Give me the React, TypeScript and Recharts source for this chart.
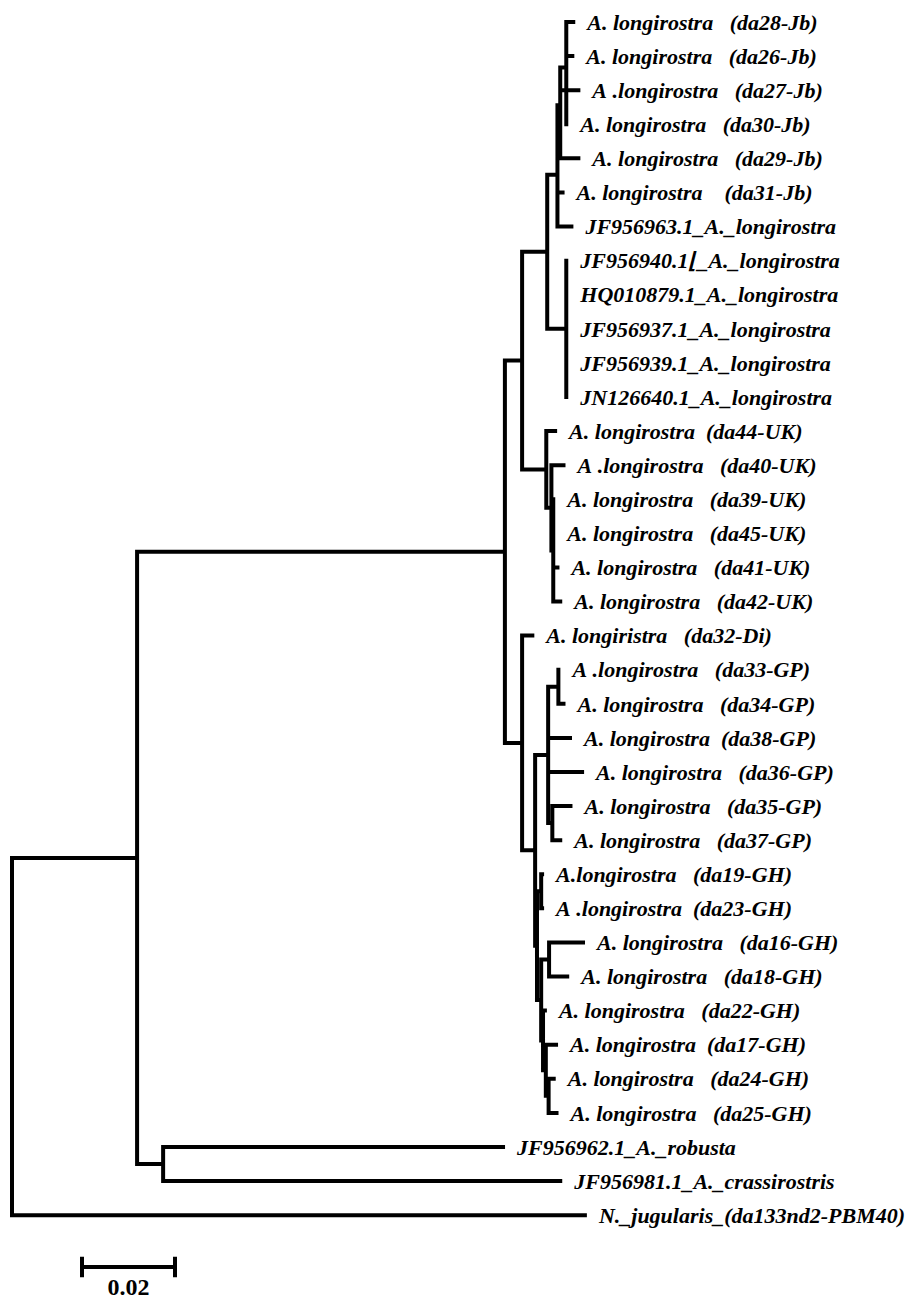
import React from 'react';
import { ComposedChart, Line, Scatter, XAxis, YAxis } from 'recharts';

// leaf order, top to bottom
const LEAF_IDS = [
  'da28', 'da26', 'da27', 'da30', 'da29', 'da31',
  'JF956963', 'JF956940', 'HQ010879', 'JF956937', 'JF956939', 'JN126640',
  'da44', 'da40', 'da39', 'da45', 'da41', 'da42',
  'da32', 'da33', 'da34', 'da38', 'da36', 'da35', 'da37',
  'da19', 'da23', 'da16', 'da18', 'da22', 'da17', 'da24', 'da25',
  'JF956962', 'JF956981', 'da133',
];

const LEAF_LABELS = [
  'A. longirostra   (da28-Jb)',
  'A. longirostra   (da26-Jb)',
  'A .longirostra   (da27-Jb)',
  'A. longirostra   (da30-Jb)',
  'A. longirostra   (da29-Jb)',
  'A. longirostra    (da31-Jb)',
  'JF956963.1_A._longirostra',
  'JF956940.1\u230A_A._longirostra',
  'HQ010879.1_A._longirostra',
  'JF956937.1_A._longirostra',
  'JF956939.1_A._longirostra',
  'JN126640.1_A._longirostra',
  'A. longirostra  (da44-UK)',
  'A .longirostra   (da40-UK)',
  'A. longirostra   (da39-UK)',
  'A. longirostra   (da45-UK)',
  'A. longirostra   (da41-UK)',
  'A. longirostra   (da42-UK)',
  'A. longiristra   (da32-Di)',
  'A .longirostra   (da33-GP)',
  'A. longirostra   (da34-GP)',
  'A. longirostra  (da38-GP)',
  'A. longirostra   (da36-GP)',
  'A. longirostra   (da35-GP)',
  'A. longirostra   (da37-GP)',
  'A.longirostra   (da19-GH)',
  'A .longirostra  (da23-GH)',
  'A. longirostra   (da16-GH)',
  'A. longirostra   (da18-GH)',
  'A. longirostra   (da22-GH)',
  'A. longirostra  (da17-GH)',
  'A. longirostra   (da24-GH)',
  'A. longirostra   (da25-GH)',
  'JF956962.1_A._robusta',
  'JF956981.1_A._crassirostris',
  'N._jugularis_(da133nd2-PBM40)',
];

// [parent, child, branch length (substitutions/site)]
const EDGES: [string, string, number][] = [
  ['root', 'A', 0.0269], ['root', 'da133', 0.1232],
  ['A', 'B', 0.0791], ['A', 'C', 0.0056],
  ['C', 'JF956962', 0.0731], ['C', 'JF956981', 0.0854],
  ['B', 'D', 0.0037], ['B', 'E', 0.0037],
  ['D', 'R', 0.0054], ['D', 'U1', 0.0052],
  ['R', 'J', 0.0022], ['R', 'JFP', 0.0041],
  ['J', 'Q', 0.0006], ['J', 'da31', 0.0011], ['J', 'JF956963', 0.003],
  ['Q', 'S', 0.0013], ['Q', 'da27', 0.0039], ['Q', 'da29', 0.0039],
  ['S', 'da28', 0.0015], ['S', 'da26', 0.0013], ['S', 'da30', 0],
  ['JFP', 'JF956940', 0], ['JFP', 'HQ010879', 0], ['JFP', 'JF956937', 0],
  ['JFP', 'JF956939', 0], ['JFP', 'JN126640', 0],
  ['U1', 'da44', 0.0019], ['U1', 'U2', 0.0011],
  ['U2', 'da40', 0.0026], ['U2', 'U3', 0.0004],
  ['U3', 'da39', 0], ['U3', 'da45', 0], ['U3', 'da41', 0.0009], ['U3', 'da42', 0.0015],
  ['E', 'da32', 0.0022], ['E', 'F', 0.0028],
  ['F', 'G', 0.0028], ['F', 'H', 0.0004],
  ['G', 'G2', 0.0022], ['G', 'da38', 0.0047], ['G', 'da36', 0.0073], ['G', 'G3', 0.0009],
  ['G2', 'da33', 0], ['G2', 'da34', 0.0011],
  ['G3', 'da35', 0.0039], ['G3', 'da37', 0.0017],
  ['H', 'H1', 0.0009], ['H', 'Hp', 0.0009],
  ['H1', 'da19', 0.0002], ['H1', 'da23', 0.0002],
  ['Hp', 'H2', 0.0017], ['Hp', 'Hpp', 0.0004],
  ['H2', 'da16', 0.0073], ['H2', 'da18', 0.0039],
  ['Hpp', 'da22', 0.0004], ['Hpp', 'H3', 0.0006],
  ['H3', 'da17', 0.0022], ['H3', 'H4', 0.0006],
  ['H4', 'da24', 0.0011], ['H4', 'da25', 0.0017],
];

const SCALE_LENGTH = 0.02;
const SCALE_LABEL = '0.02';

const W = 915;
const H = 1302;
const PX_PER_UNIT = 4650;
const ROW_PX = 34.09;
const X_DOMAIN: [number, number] = [-12 / PX_PER_UNIT, (W - 12) / PX_PER_UNIT];
const Y_DOMAIN: [number, number] = [-22 / ROW_PX, (H - 22) / ROW_PX];
const SCALE_START = 70 / PX_PER_UNIT;
const SCALE_ROW = 1245 / ROW_PX;
const TICK_HALF = 0.24;

const FONT = '"Liberation Serif", "Times New Roman", serif';

type Pt = { x: number; y: number | null };

function layoutTree() {
  const children: Record<string, string[]> = {};
  const len: Record<string, number> = {};
  EDGES.forEach(([p, c, l]) => {
    (children[p] ||= []).push(c);
    len[c] = l;
  });
  const root = EDGES[0][0];
  const xs: Record<string, number> = { [root]: 0 };
  const ys: Record<string, number> = {};
  const visit = (id: string) => {
    const kids = children[id];
    if (!kids) {
      ys[id] = LEAF_IDS.indexOf(id);
      return;
    }
    kids.forEach((k) => {
      xs[k] = xs[id] + len[k];
      visit(k);
    });
    ys[id] = kids.reduce((s, k) => s + ys[k], 0) / kids.length;
  };
  visit(root);

  // one path, broken with null points between segments
  const line: Pt[] = [];
  const seg = (a: Pt, b: Pt) => line.push(a, b, { x: b.x, y: null });
  Object.keys(children).forEach((id) => {
    const kidYs = children[id].map((k) => ys[k]);
    seg({ x: xs[id], y: Math.min(...kidYs) }, { x: xs[id], y: Math.max(...kidYs) });
    children[id].forEach((k) => {
      if (len[k] > 0) seg({ x: xs[id], y: ys[k] }, { x: xs[k], y: ys[k] });
    });
  });

  const leaves = LEAF_IDS.map((id, i) => ({ x: xs[id], y: i, label: LEAF_LABELS[i] }));
  return { line, leaves };
}

const LeafLabel = (props: any) => {
  const { cx, cy, payload } = props;
  return (
    <text
      x={cx + 14}
      y={cy}
      dy="0.35em"
      fontFamily={FONT}
      fontSize={22}
      fontWeight="bold"
      fontStyle="italic"
      fill="#000"
    >
      {payload.label.replace(/ /g, '\u00A0')}
    </text>
  );
};

const ScaleLabel = (props: any) => {
  const { cx, cy, payload } = props;
  return (
    <text x={cx} y={cy + 28} textAnchor="middle" fontFamily={FONT} fontSize={24} fontWeight="bold" fill="#000">
      {payload.label}
    </text>
  );
};

export default function App() {
  const { line, leaves } = layoutTree();
  const s0 = SCALE_START;
  const s1 = SCALE_START + SCALE_LENGTH;
  const scaleLine: Pt[] = [
    { x: s0, y: SCALE_ROW - TICK_HALF }, { x: s0, y: SCALE_ROW + TICK_HALF }, { x: s0, y: null },
    { x: s0, y: SCALE_ROW }, { x: s1, y: SCALE_ROW }, { x: s1, y: null },
    { x: s1, y: SCALE_ROW - TICK_HALF }, { x: s1, y: SCALE_ROW + TICK_HALF },
  ];
  const scaleText = [{ x: (s0 + s1) / 2, y: SCALE_ROW, label: SCALE_LABEL }];

  return (
    <div style={{ position: 'absolute', left: 0, top: 0, background: '#fff' }}>
      <ComposedChart width={W} height={H} margin={{ top: 0, right: 0, bottom: 0, left: 0 }}>
        <XAxis type="number" dataKey="x" domain={X_DOMAIN} hide allowDataOverflow />
        <YAxis type="number" dataKey="y" domain={Y_DOMAIN} reversed hide allowDataOverflow />
        <Line
          data={line}
          dataKey="y"
          stroke="#000"
          strokeWidth={4}
          strokeLinecap="square"
          dot={false}
          activeDot={false}
          isAnimationActive={false}
        />
        <Line
          data={scaleLine}
          dataKey="y"
          stroke="#000"
          strokeWidth={4}
          strokeLinecap="square"
          dot={false}
          activeDot={false}
          isAnimationActive={false}
        />
        <Scatter data={leaves} dataKey="y" shape={<LeafLabel />} isAnimationActive={false} />
        <Scatter data={scaleText} dataKey="y" shape={<ScaleLabel />} isAnimationActive={false} />
      </ComposedChart>
    </div>
  );
}
